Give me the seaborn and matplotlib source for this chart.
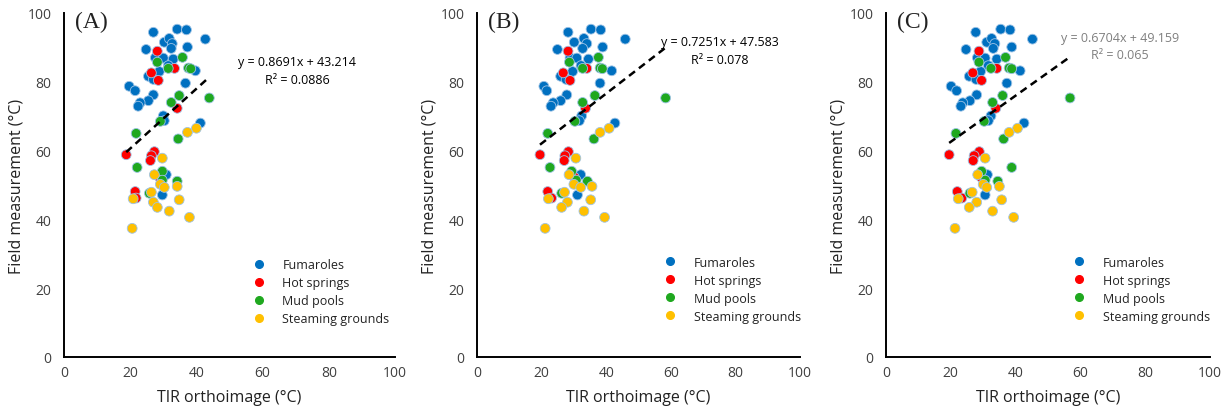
import numpy as np
import pandas as pd
import matplotlib
matplotlib.use("Agg")
import matplotlib.pyplot as plt
from matplotlib.lines import Line2D
import seaborn as sns

sns.set_theme(style="white")
plt.rcParams["font.family"] = ["Open Sans", "DejaVu Sans"]

# ---------------- data ----------------
categories = ["Fumaroles", "Hot springs", "Mud pools", "Steaming grounds"]
panels = ["(A)", "(B)", "(C)"]
colors = ["#0070C0", "#FF0000", "#1FA81F", "#FFC000"]

# field measurement (shared by all panels)
fum_y = [94.4, 95.3, 95.1, 92.4, 89.4, 91.5, 92.6, 91.1, 89.7, 90.1, 87.0, 86.9, 86.6, 84.7,
         83.2, 83.0, 81.6, 80.7, 79.6, 78.7, 77.4, 76.2, 74.5, 73.9, 72.9, 70.1, 68.7, 68.0,
         53.0, 47.1]
hot_y = [88.9, 83.9, 82.6, 80.4, 72.3, 58.8, 59.7, 58.5, 57.1, 52.3, 48.1, 46.2]
mud_y = [87.1, 85.7, 83.9, 84.0, 83.8, 76.0, 75.3, 74.0, 68.5, 65.0, 63.4, 55.1, 54.0, 51.4,
         51.1, 47.6]
stm_y = [66.5, 65.3, 57.8, 53.0, 50.2, 49.3, 49.6, 46.0, 47.9, 45.7, 45.0, 43.5, 42.4, 40.6,
         37.4]

# TIR orthoimage per panel
fum_x_A = [27.0, 34.2, 37.0, 42.7, 24.8, 30.3, 31.8, 32.7, 32.4, 37.3, 27.6, 30.0, 33.0, 31.5,
           39.7, 28.8, 25.5, 27.0, 36.7, 19.7, 21.5, 27.0, 25.5, 23.0, 22.4, 30.0, 30.3, 41.2,
           30.9, 29.7]
hot_x_A = [28.2, 33.4, 26.4, 28.5, 34.2, 18.8, 27.3, 26.4, 26.1, 28.8, 21.5, 21.8]
mud_x_A = [35.8, 28.2, 31.5, 37.6, 38.3, 34.8, 43.9, 32.4, 29.1, 21.8, 34.5, 22.1, 29.7, 29.7,
           34.2, 25.8]
stm_x_A = [40.0, 37.3, 29.7, 27.3, 29.1, 30.3, 34.2, 20.9, 26.4, 34.8, 27.0, 28.2, 31.8, 37.9,
           20.6]

fum_x_B = [28.2, 35.3, 38.3, 45.9, 24.9, 30.1, 33.1, 34.0, 32.7, 38.9, 28.8, 30.9, 34.5, 32.2,
           41.7, 29.6, 25.9, 27.6, 38.1, 20.7, 21.6, 27.8, 25.9, 23.6, 22.9, 32.4, 31.7, 42.7,
           32.1, 31.1]
hot_x_B = [28.2, 34.0, 26.7, 28.8, 33.6, 19.5, 28.3, 27.2, 27.0, 30.1, 21.9, 23.1]
mud_x_B = [37.6, 28.6, 32.7, 38.1, 38.8, 36.5, 58.4, 32.7, 30.3, 21.9, 36.2, 22.6, 29.3, 30.7,
           34.2, 26.2]
stm_x_B = [40.9, 38.1, 30.6, 28.5, 30.0, 32.1, 35.6, 22.1, 27.1, 35.2, 28.0, 26.2, 33.1, 39.5,
           21.1]

fum_x_C = [27.7, 35.4, 38.3, 45.2, 24.7, 31.1, 32.6, 33.6, 33.1, 38.8, 28.2, 30.6, 34.2, 31.6,
           41.4, 29.2, 25.7, 27.8, 37.3, 20.1, 21.8, 28.0, 25.9, 23.7, 23.1, 32.4, 31.6, 42.6,
           31.3, 30.6]
hot_x_C = [28.7, 34.2, 26.8, 29.5, 33.9, 19.5, 28.8, 27.2, 26.9, 29.3, 22.0, 23.4]
mud_x_C = [36.9, 28.7, 32.4, 38.0, 38.8, 36.0, 56.8, 32.9, 30.3, 21.6, 36.3, 38.8, 29.5, 30.6,
           34.5, 25.9]
stm_x_C = [40.6, 38.0, 30.6, 28.3, 30.0, 31.1, 35.0, 22.3, 26.6, 35.7, 28.0, 25.7, 32.9, 39.4,
           21.3]

slopes = [0.8691, 0.7251, 0.6704]
intercepts = [43.214, 47.583, 49.159]
r2_values = ["0.0886", "0.078", "0.065"]

xs = {
    "(A)": [fum_x_A, hot_x_A, mud_x_A, stm_x_A],
    "(B)": [fum_x_B, hot_x_B, mud_x_B, stm_x_B],
    "(C)": [fum_x_C, hot_x_C, mud_x_C, stm_x_C],
}
ys = [fum_y, hot_y, mud_y, stm_y]

rows = []
for p in panels:
    for cat, xl, yl in zip(categories, xs[p], ys):
        for xv, yv in zip(xl, yl):
            rows.append({"panel": p, "type": cat, "x": xv, "y": yv})
df = pd.DataFrame(rows)

# ---------------- layout ----------------
W, H = 1232, 414
fig = plt.figure(figsize=(W / 100, H / 100), dpi=100)
axes_px = [(64, 395), (477, 800), (886, 1210)]
bottom_px, top_px = 358, 14
eq_pos = [(70.4, 85.8, 80.8), (75.2, 91.6, 86.6), (72.2, 93.0, 88.0)]
eq_color = ["#000000", "#000000", "#7F7F7F"]
leg_anchor = [(0.565, 0.287), (0.575, 0.295), (0.572, 0.295)]

for i, p in enumerate(panels):
    l, r = axes_px[i]
    ax = fig.add_axes([l / W, 1 - bottom_px / H, (r - l) / W, (bottom_px - top_px) / H])
    sub = df[df["panel"] == p]
    sns.scatterplot(data=sub, x="x", y="y", hue="type", hue_order=categories,
                    palette=colors, s=50, edgecolor="#9DC3E6", linewidth=0.6,
                    ax=ax, legend=False, zorder=3)
    xmin, xmax = sub["x"].min(), sub["x"].max()
    xl = np.array([xmin, xmax])
    ax.plot(xl, slopes[i] * xl + intercepts[i], color="black", lw=1.8,
            ls=(0, (3, 2)), zorder=4)
    ex, ey1, ey2 = eq_pos[i]
    ax.text(ex, ey1, f"y = {slopes[i]}x + {intercepts[i]}", ha="center", va="center",
            fontsize=9, color=eq_color[i])
    ax.text(ex, ey2, f"R² = {r2_values[i]}", ha="center", va="center",
            fontsize=9, color=eq_color[i])
    ax.text(3.3, 97.4, p, ha="left", va="center", fontsize=17,
            family=["Liberation Serif", "DejaVu Serif"], color="#222222")

    ax.set_xlim(0, 100)
    ax.set_ylim(0, 100)
    ax.set_xticks(range(0, 101, 20))
    ax.set_yticks(range(0, 101, 20))
    ax.tick_params(axis="both", length=0, labelsize=10, colors="#404040")
    ax.tick_params(axis="x", pad=6)
    ax.tick_params(axis="y", pad=9)
    for s in ["top", "right"]:
        ax.spines[s].set_visible(False)
    for s in ["left", "bottom"]:
        ax.spines[s].set_color("black")
        ax.spines[s].set_linewidth(1.4)
    ax.set_xlabel("TIR orthoimage (°C)", fontsize=11.5, color="#222222", labelpad=6)
    ax.set_ylabel("Field measurement (°C)", fontsize=11.5, color="#222222", labelpad=2)

    handles = [Line2D([0], [0], marker="o", ls="none", markersize=5.5,
                      markerfacecolor=c, markeredgecolor=c) for c in colors]
    ax.legend(handles, categories, loc="upper left", bbox_to_anchor=leg_anchor[i],
              frameon=False, fontsize=9, handletextpad=1.3, labelspacing=0.4,
              borderpad=0, borderaxespad=0, handlelength=1.2, labelcolor="#222222")

fig.savefig("out.png", dpi=100)
